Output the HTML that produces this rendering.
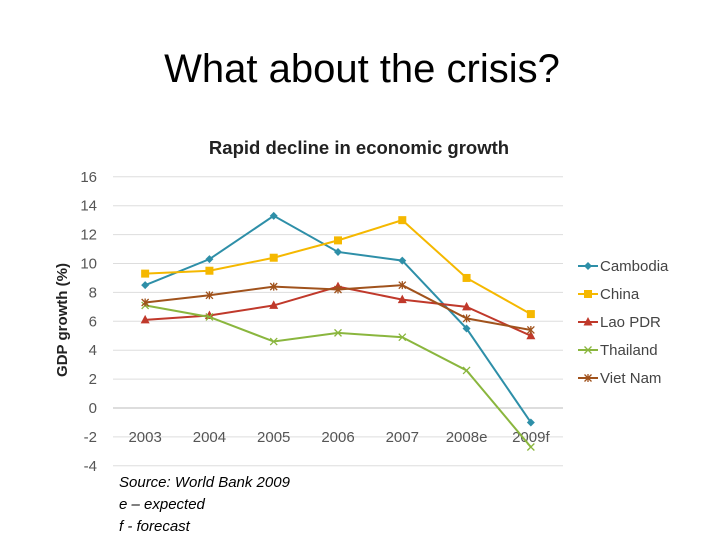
<!DOCTYPE html>
<html><head><meta charset="utf-8"><style>
body{margin:0;background:#fff;width:720px;height:540px;overflow:hidden;font-family:"Liberation Sans",sans-serif;}
</style></head><body>
<svg width="720" height="540" xmlns="http://www.w3.org/2000/svg">
<text x="362" y="82" font-size="40" text-anchor="middle" fill="#000" font-family="Liberation Sans, sans-serif">What about the crisis?</text>
<text x="359" y="154" font-size="18.5" font-weight="bold" text-anchor="middle" fill="#222">Rapid decline in economic growth</text>
<text transform="translate(67,320) rotate(-90)" font-size="15" font-weight="bold" text-anchor="middle" fill="#222">GDP growth (%)</text>
<g id="grid"></g><g id="yticks"></g><g id="xticks"></g><g id="series"></g><g id="legend"></g>
<text x="119" y="487" font-size="15" font-style="italic" fill="#000">Source: World Bank 2009</text>
<text x="119" y="509" font-size="15" font-style="italic" fill="#000">e – expected</text>
<text x="119" y="531" font-size="15" font-style="italic" fill="#000">f - forecast</text>
</svg>
<script>
const categories=["2003","2004","2005","2006","2007","2008e","2009f"];
const yTicks=[16,14,12,10,8,6,4,2,0,-2,-4];
const seriesNames=["Cambodia","China","Lao PDR","Thailand","Viet Nam"];
const cambodia=[8.5,10.3,13.3,10.8,10.2,5.5,-1.0];
const china=[9.3,9.5,10.4,11.6,13.0,9.0,6.5];
const lao=[6.1,6.4,7.1,8.4,7.5,7.0,5.0];
const thailand=[7.1,6.3,4.6,5.2,4.9,2.6,-2.7];
const vietnam=[7.3,7.8,8.4,8.2,8.5,6.2,5.4];
const colors=["#2e8fa8","#f5b800","#c0392b","#8ab63e","#a0521c"];
const markers=["diamond","square","triangle","x","star"];
const NS="http://www.w3.org/2000/svg";
const X0=113,X1=563,Y0=408,PER=14.45;
const x=i=>X0+(X1-X0)/categories.length*(i+0.5);
const y=v=>Y0-v*PER;
function mk(tag,attrs,parent){const e=document.createElementNS(NS,tag);for(const k in attrs)e.setAttribute(k,attrs[k]);parent.appendChild(e);return e;}
const grid=document.getElementById('grid'),yt=document.getElementById('yticks'),xt=document.getElementById('xticks'),sg=document.getElementById('series'),lg=document.getElementById('legend');
yTicks.forEach(v=>{
 const l=mk('line',{x1:X0,x2:X1,y1:y(v),y2:y(v),stroke:v===0?'#bbb':'#ddd','stroke-width':1},grid);
 
 
 const t=mk('text',{x:97,y:y(v)+5,'font-size':15,'text-anchor':'end',fill:'#555'},yt);
 t.textContent=v;
 
 
});
categories.forEach((c,i)=>{
 const t=mk('text',{x:x(i),y:y(-2)+5,'font-size':15,'text-anchor':'middle',fill:'#555'},xt);
 t.textContent=c;
 
 
});
function marker(type,cx,cy,col,parent){
 let e;
 if(type==='diamond')e=mk('polygon',{points:`${cx},${cy-4} ${cx+4},${cy} ${cx},${cy+4} ${cx-4},${cy}`,fill:col},parent);
 else if(type==='square')e=mk('rect',{x:cx-4,y:cy-4,width:8,height:8,fill:col},parent);
 else if(type==='triangle')e=mk('polygon',{points:`${cx},${cy-5} ${cx+4.5},${cy+3.5} ${cx-4.5},${cy+3.5}`,fill:col},parent);
 else e=mk('path',{d:`M${cx-3.5},${cy-3.5}L${cx+3.5},${cy+3.5}M${cx-3.5},${cy+3.5}L${cx+3.5},${cy-3.5}`+(type==='star'?`M${cx},${cy-4}L${cx},${cy+4}`:''),stroke:col,'stroke-width':1.3},parent);
 return e;
}
[cambodia,china,lao,thailand,vietnam].forEach((data,s)=>{
 const g=mk('g',{},sg);
 
 
 const p=mk('polyline',{points:data.map((v,i)=>x(i)+','+y(v)).join(' '),fill:'none',stroke:colors[s],'stroke-width':2},g);
 
 
 data.forEach((v,i)=>{
  const m=marker(markers[s],x(i),y(v),colors[s],g);
  
  
 });
 const ly=266+s*28;
 const le=mk('g',{},lg);
 
 
 mk('line',{x1:578,x2:598,y1:ly,y2:ly,stroke:colors[s],'stroke-width':2},le);
 marker(markers[s],588,ly,colors[s],le);
 const t=mk('text',{x:600,y:ly+5,'font-size':15,fill:'#444'},le);
 t.textContent=seriesNames[s];
});
</script>
</body></html>
